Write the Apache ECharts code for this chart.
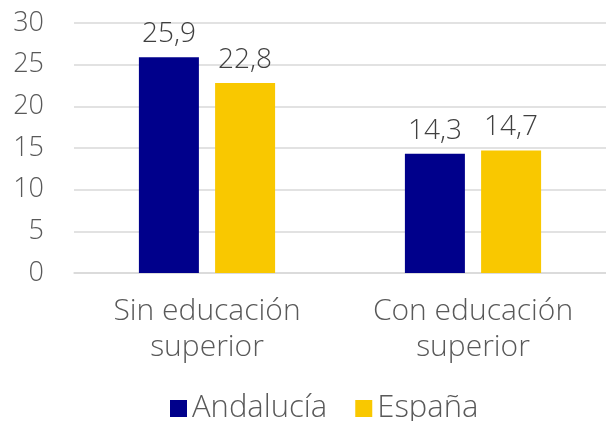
<!DOCTYPE html>
<html>
<head>
<meta charset="utf-8">
<script src="https://cdn.jsdelivr.net/npm/echarts@6/dist/echarts.min.js"></script>
<style>
  html, body { margin: 0; padding: 0; background: #fff; }
  #myChart { width: 606px; height: 421px; }
</style>
</head>
<body>
<div id="myChart"></div>
<script>
// datos
var categorias = ['Sin educación\nsuperior', 'Con educación\nsuperior'];
var andalucia = [25.9, 14.3];
var espana = [22.8, 14.7];
var yTicks = [0, 5, 10, 15, 20, 25, 30];

var fuente = 'Open Sans';
var peso = 300;
var etiqueta = {
  show: true,
  position: 'top',
  distance: 9,
  fontFamily: fuente,
  fontWeight: peso,
  fontSize: 28,
  color: '#404040',
  formatter: function (p) { return String(p.value).replace('.', ','); }
};

var myChart = echarts.init(document.getElementById('myChart'));
myChart.setOption({
  animation: false,
  textStyle: { fontFamily: fuente },
  grid: { left: 74, right: -4, top: 23, bottom: 148 },
  legend: {
    top: 388,
    left: 165,
    itemWidth: 17,
    itemHeight: 17,
    itemGap: 28,
    icon: 'rect',
    textStyle: { fontFamily: fuente, fontWeight: peso, fontSize: 31, color: '#595959' },
    data: ['Andalucía', 'España']
  },
  xAxis: {
    type: 'category',
    data: categorias,
    axisLine: { lineStyle: { color: '#d9d9d9', width: 1.5 } },
    axisTick: { show: false },
    axisLabel: { fontFamily: fuente, fontWeight: peso, fontSize: 30, color: '#595959', lineHeight: 36, margin: 20 }
  },
  yAxis: {
    type: 'value',
    min: yTicks[0],
    max: yTicks[yTicks.length - 1],
    interval: 5,
    axisLine: { show: false },
    axisTick: { show: false },
    splitLine: { lineStyle: { color: '#d9d9d9', width: 1.5 } },
    axisLabel: { fontFamily: fuente, fontWeight: peso, fontSize: 27, color: '#595959', margin: 30 }
  },
  series: [
    {
      name: 'Andalucía',
      type: 'bar',
      data: andalucia,
      barWidth: 60,
      barGap: '27%',
      itemStyle: { color: '#00008b' },
      label: etiqueta
    },
    {
      name: 'España',
      type: 'bar',
      data: espana,
      barWidth: 60,
      itemStyle: { color: '#f9c800' },
      label: etiqueta
    }
  ]
});
</script>
</body>
</html>
